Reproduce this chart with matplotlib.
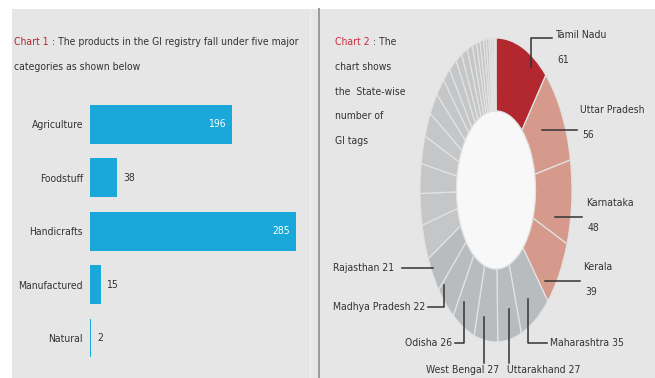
import numpy as np
import matplotlib.pyplot as plt
from matplotlib import font_manager as fm

# pick a narrow face if one is installed
names = {(f.name, f.stretch) for f in fm.fontManager.ttflist}
if any(n == 'Liberation Sans Narrow' for n, s in names):
    FAMILY, STRETCH = 'Liberation Sans Narrow', 'normal'
elif ('DejaVu Sans', 'condensed') in names:
    FAMILY, STRETCH = 'DejaVu Sans', 'condensed'
else:
    FAMILY, STRETCH = 'Liberation Sans', 'normal'
plt.rcParams['font.family'] = [FAMILY, 'DejaVu Sans']
plt.rcParams['font.stretch'] = STRETCH

# Chart 1 data: GI products by category
categories = ['Agriculture', 'Foodstuff', 'Handicrafts', 'Manufactured', 'Natural']
cat_counts = [196, 38, 285, 15, 2]

# Chart 2 data: state-wise GI tags (clockwise from top)
states = ['Tamil Nadu', 'Uttar Pradesh', 'Karnataka', 'Kerala', 'Maharashtra',
          'Uttarakhand', 'West Bengal', 'Odisha', 'Madhya Pradesh', 'Rajasthan']
state_counts = [61, 56, 48, 39, 35, 27, 27, 26, 22, 21]
# remaining states (unlabelled grey slices), estimated
other_counts = [20, 18, 17, 16, 14, 13, 11, 9, 9, 7, 7, 6, 5, 4, 4, 3, 3, 2, 2, 2, 1, 1]

title1 = 'Chart 1 : The products in the GI registry fall under five major'

W, H = 655, 378
RED = '#b3282f'
TXT = '#333333'

fig = plt.figure(figsize=(W / 100, H / 100), dpi=100)

# size the font so the first title line spans the same width as in the reference
probe = fig.text(0, 0, title1, fontsize=10)
pw = probe.get_window_extent(renderer=fig.canvas.get_renderer()).width
probe.remove()
FS = min(10.5, 10 * 286 / pw)

# background panels
bg = fig.add_axes([0, 0, 1, 1], zorder=0)
bg.set_xlim(0, W)
bg.set_ylim(H, 0)
bg.axis('off')
bg.add_patch(plt.Rectangle((12, 9), W - 12, H - 9, facecolor='#e6e6e6', edgecolor='none'))
bg.plot([319, 319], [9, H], color='#9a9a9a', lw=1.4)
bg.plot([310, 310], [9, H], color='#efefef', lw=1.0)

# ---- Chart 1: horizontal bars ----
bar_left, bar_right = 90, 296
bar_top, bar_bot = 97.8, 364.7
ax1 = fig.add_axes([bar_left / W, 1 - bar_bot / H, (bar_right - bar_left) / W, (bar_bot - bar_top) / H], zorder=2)
y = np.arange(len(categories))
ax1.barh(y, cat_counts, height=0.73, color='#1aa7d9')
ax1.set_xlim(0, max(cat_counts))
ax1.set_ylim(len(categories) - 0.5, -0.5)
ax1.set_yticks(y, labels=categories)
ax1.set_xticks([])
ax1.tick_params(axis='y', length=0, pad=5, labelsize=FS, labelcolor=TXT)
ax1.patch.set_visible(False)
for s in ax1.spines.values():
    s.set_visible(False)
for i, v in enumerate(cat_counts):
    if v > 100:
        ax1.annotate(str(v), (v, i), xytext=(-4, 0), textcoords='offset points',
                     ha='right', va='center', color='white', fontsize=FS)
    else:
        ax1.annotate(str(v), (v, i), xytext=(4, 0), textcoords='offset points',
                     ha='left', va='center', color=TXT, fontsize=FS)

# ---- Chart 2: donut ----
CX, CY, RX, RY = 496, 190, 76, 152
ax2 = fig.add_axes([(CX - RX) / W, 1 - (CY + RY) / H, 2 * RX / W, 2 * RY / H], zorder=2)
all_counts = state_counts + other_counts
colors = [RED] + ['#d59a8c'] * 3 + ['#b9bcbe'] * 6 + ['#c4c6c8'] * len(other_counts)
ax2.pie(all_counts, colors=colors, startangle=90, counterclock=False, radius=1,
        wedgeprops=dict(width=0.48, edgecolor='#e2e2e2', linewidth=0.9))
ax2.add_patch(plt.Circle((0, 0), 0.52, facecolor='#f8f8f8', edgecolor='none', zorder=0))
ax2.set_aspect('auto')
ax2.set_xlim(-1, 1)
ax2.set_ylim(-1, 1)
ax2.axis('off')

# overlay for titles and donut labels
top = fig.add_axes([0, 0, 1, 1], zorder=5)
top.set_xlim(0, W)
top.set_ylim(H, 0)
top.axis('off')
top.patch.set_visible(False)

t1 = top.text(14, 42, 'Chart 1', color=RED, va='center', fontsize=FS)
top.annotate(title1[len('Chart 1'):], xy=(1, 0),
             xycoords=t1, va='bottom', color=TXT, fontsize=FS)
top.text(14, 67, 'categories as shown below', color=TXT, va='center', fontsize=FS)

t2 = top.text(335, 42, 'Chart 2', color='#c8303e', va='center', fontsize=FS)
top.annotate(' : The', xy=(1, 0), xycoords=t2, va='bottom', color=TXT, fontsize=FS)
for k, line in enumerate(['chart shows', 'the  State-wise', 'number of', 'GI tags']):
    top.text(335, 67 + 24.7 * k, line, color=TXT, va='center', fontsize=FS)

# label layout: (position along slice, radius, route, route end, text x, text y, ha, two lines)
label_layout = [
    (0.72, 0.93, 'vh', (38, 552), 555, 35, 'left', True),
    (0.42, 0.72, 'h', (577,), 580, 110, 'left', True),
    (0.75, 0.80, 'h', (582,), 586, 203, 'left', True),
    (0.85, 0.88, 'h', (580,), 583, 267, 'left', True),
    (0.53, 0.83, 'vh', (343, 547), 550, 343, 'left', False),
    (0.39, 0.80, 'v', (363,), 507, 370, 'left', False),
    (0.66, 0.85, 'v', (363,), 499, 370, 'right', False),
    (0.73, 0.85, 'vh', (343, 455), 452, 343, 'right', False),
    (0.90, 0.93, 'vh', (307, 428), 425, 307, 'right', False),
    (0.67, 0.98, 'h', (402,), 394, 268, 'right', False),
]
total = sum(all_counts)
cum = np.cumsum(all_counts)
for i, (name, v) in enumerate(zip(states, state_counts)):
    frac, r, route, end, tx, ty, ha, two = label_layout[i]
    theta = np.radians((cum[i] - v + frac * v) * 360 / total)
    px = CX + RX * r * np.sin(theta)
    py = CY - RY * r * np.cos(theta)
    if route == 'h':
        xs, ys = [px, end[0]], [py, py]
    elif route == 'v':
        xs, ys = [px, px], [py, end[0]]
    else:
        xs, ys = [px, px, end[1]], [py, end[0], end[0]]
    top.plot(xs, ys, color=TXT, lw=1.1)
    if two:
        top.text(tx, ty, name, color=TXT, va='center', ha=ha, fontsize=FS)
        top.text(tx + 2, ty + 25, str(v), color=TXT, va='center', ha=ha, fontsize=FS)
    else:
        top.text(tx, ty, f'{name} {v}', color=TXT, va='center', ha=ha, fontsize=FS)

fig.savefig('out.png', dpi=100)
